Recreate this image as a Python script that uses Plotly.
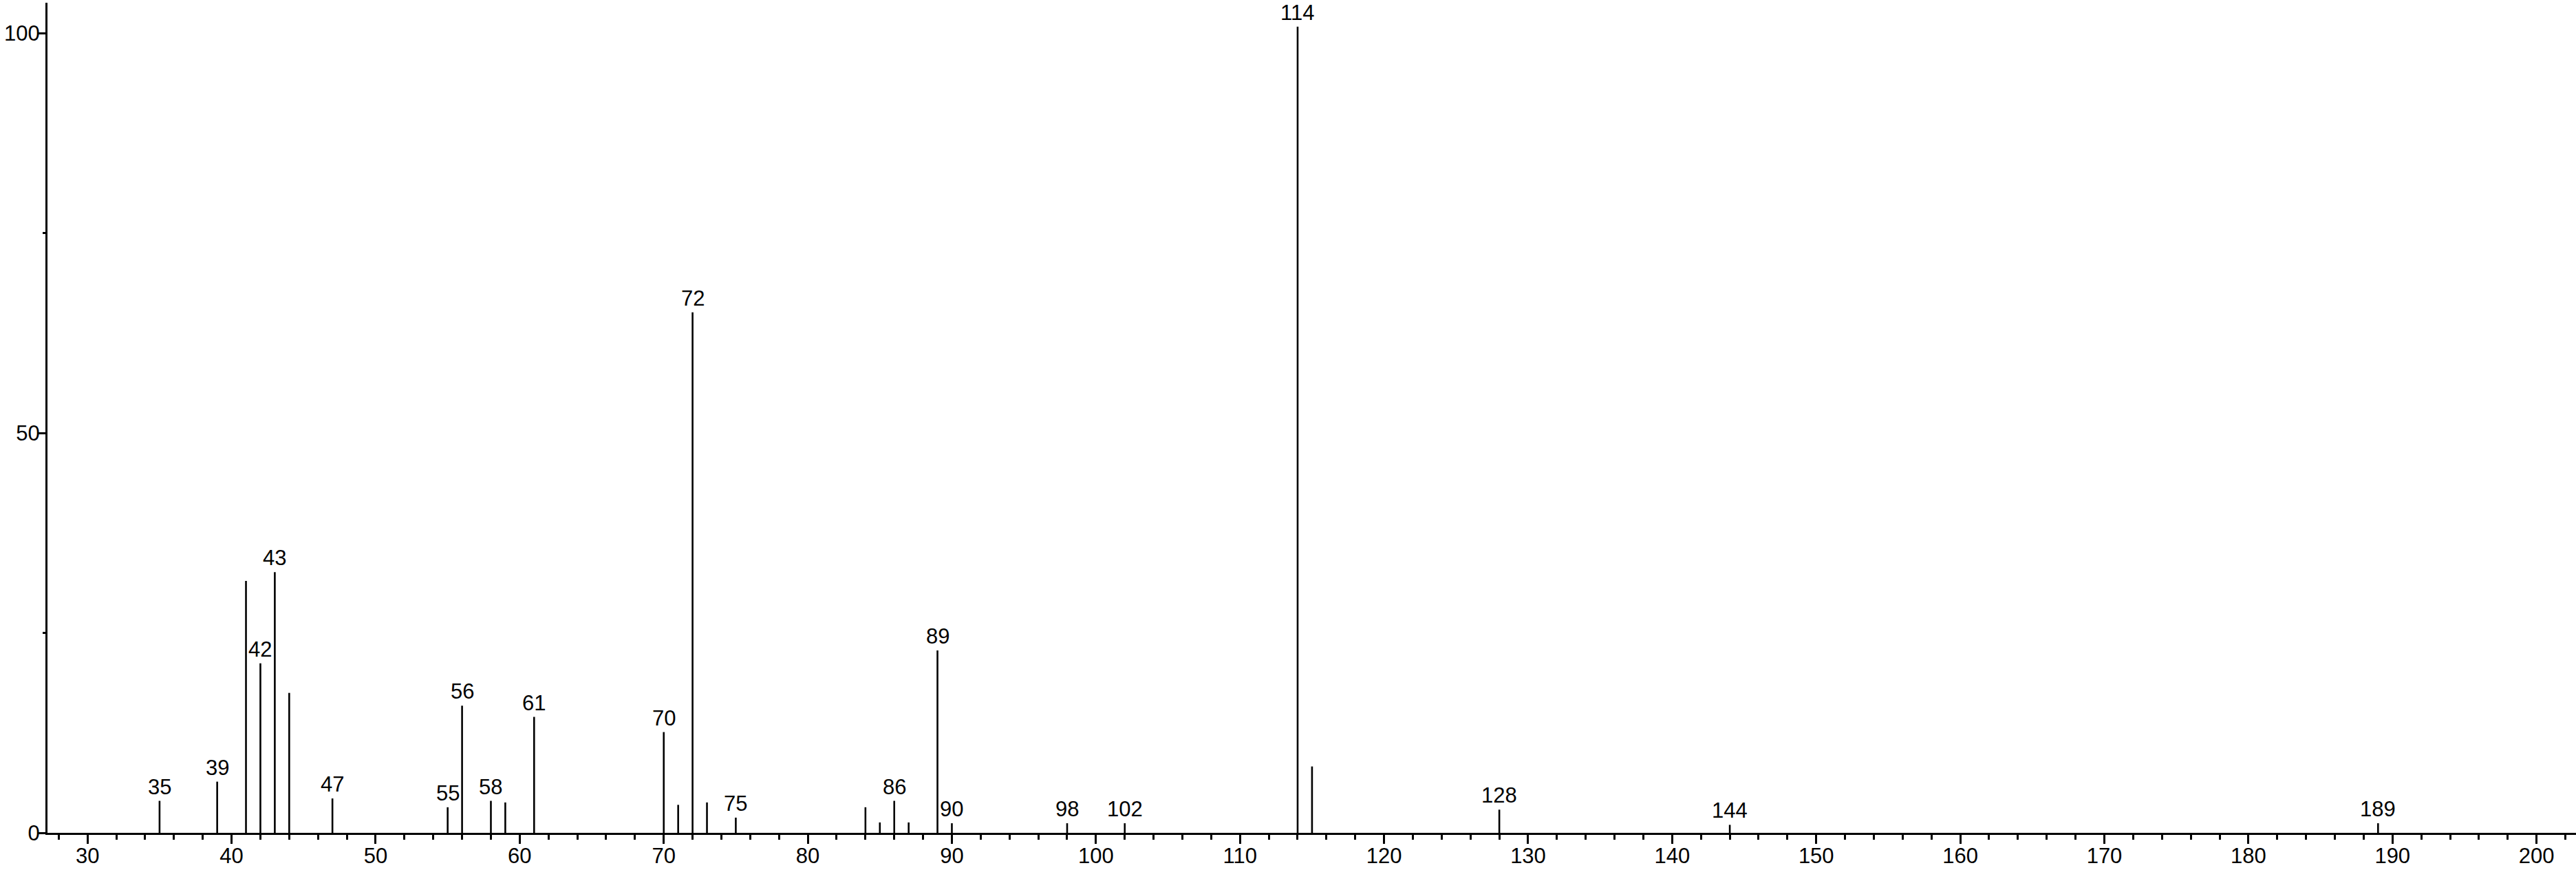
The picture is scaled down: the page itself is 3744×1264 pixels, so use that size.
import plotly.graph_objects as go

# m/z values and relative intensities
mz = [35, 39, 41, 42, 43, 44, 47, 55, 56, 58, 59, 61, 70, 71, 72, 73, 75,
      84, 85, 86, 87, 89, 90, 98, 102, 114, 115, 128, 144, 189]
intensity = [4.0, 6.4, 31.5, 21.2, 32.6, 17.5, 4.3, 3.2, 15.9, 4.0, 3.8, 14.5,
             12.6, 3.5, 65.1, 3.8, 1.9, 3.2, 1.3, 4.0, 1.3, 22.8, 1.2, 1.2,
             1.2, 100.8, 8.3, 2.9, 1.0, 1.2]
labelled = [35, 39, 42, 43, 47, 55, 56, 58, 61, 70, 72, 75, 86, 89, 90, 98,
            102, 114, 128, 144, 189]

FONT = "Liberation Sans, Arial, sans-serif"

# sticks as one line trace, broken by None
xs, ys = [], []
for m, v in zip(mz, intensity):
    xs += [m, m, None]
    ys += [0, v, None]

fig = go.Figure()
fig.add_trace(go.Scatter(x=xs, y=ys, mode="lines",
                         line=dict(color="black", width=2.6),
                         hoverinfo="skip", showlegend=False))

for m, v in zip(mz, intensity):
    if m in labelled:
        fig.add_annotation(x=m, y=v, text=str(m), showarrow=False,
                           yanchor="bottom", yshift=1,
                           font=dict(family=FONT, size=31, color="black"))

fig.update_xaxes(
    range=[27.22, 202.74], showline=True, linecolor="black", linewidth=3,
    ticks="outside", tickvals=list(range(30, 201, 10)), ticklen=13,
    tickwidth=2.5, tickcolor="black", ticklabelstandoff=-9,
    minor=dict(dtick=2, tick0=0, ticks="outside", ticklen=7, tickwidth=2.5,
               tickcolor="black"),
    showgrid=False, zeroline=False, automargin=False,
    tickfont=dict(family=FONT, size=31, color="black"),
)
fig.update_yaxes(
    range=[0, 103.8], showline=True, linecolor="black", linewidth=3,
    ticks="outside", tickvals=[0, 50, 100], ticklen=12, tickwidth=2.5,
    tickcolor="black", ticklabelstandoff=-10,
    minor=dict(tickvals=[25, 75], ticks="outside", ticklen=4, tickwidth=2.5,
               tickcolor="black"),
    showgrid=False, zeroline=False, automargin=False,
    tickfont=dict(family=FONT, size=31, color="black"),
)
fig.update_layout(
    width=3744, height=1264,
    margin=dict(l=69, r=0, t=4, b=54),
    plot_bgcolor="white", paper_bgcolor="white",
)
# page body margin would push the figure 8px off
fig.write_html("out.html", config={"displayModeBar": False},
               post_script="document.body.style.margin='0';")
